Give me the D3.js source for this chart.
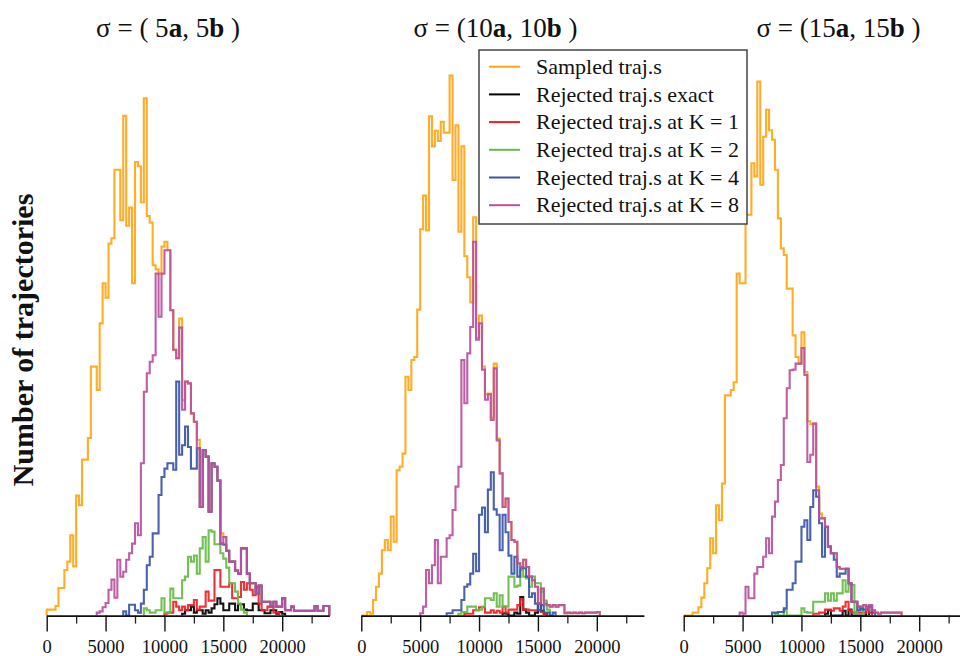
<!DOCTYPE html>
<html>
<head>
<meta charset="utf-8">
<script src="https://cdn.jsdelivr.net/npm/d3@7"></script>
<style>
  body { margin: 0; background: #fff; }
  svg { display: block; }
</style>
</head>
<body>
<svg id="chart" width="960" height="656"></svg>
<script>
// ---- data -------------------------------------------------------------
const binWidth = 250;            // histogram bin width (trajectory length)
const xMax = 24000;
const majorTicks = [0, 5000, 10000, 15000, 20000];
const minorTicks = [2500, 7500, 12500, 17500, 22500];

const seriesNames = [
  "Sampled traj.s",
  "Rejected traj.s exact",
  "Rejected traj.s at K = 1",
  "Rejected traj.s at K = 2",
  "Rejected traj.s at K = 4",
  "Rejected traj.s at K = 8"
];
const seriesColors = ["#FFA515", "#000000", "#EE1F26", "#66BB44", "#3A55A6", "#B9509F"];

const sigmaFactors = ["5", "10", "15"];

// first bin index of each series, in legend order
const p1From = [0, 46, 40, 33, 26, 17];
const p2From = [0, 48, 35, 33, 29, 20];
const p3From = [0, 48, 44, 31, 30, 19];

// sigma = (5a, 5b)
const p1Sampled = [1, 1, 1, 1.6, 4.6, 4.6, 7.6, 9, 13.4, 8.2, 20, 18.4, 26, 26, 29.6, 41.5, 41.5, 37.6, 48.7, 55.4,
  53, 62, 62.9, 74.3, 74.3, 65.9, 83.3, 65, 68, 55.4, 75.6, 74.9, 68.9, 86.2, 66.6, 65.5, 58.4, 57.7, 57, 61.5,
  62.3, 60.9, 50.9, 44.3, 42.9, 49.5, 35.9, 39, 38.7, 33.7, 32.3, 29.3, 18.1, 27.6, 26.5, 17.3, 25.4, 24.8, 22.5, 13.7,
  13.1, 10.8, 9, 9, 7.5, 7, 11.2, 11.2, 7, 5.4, 5.4, 3.7, 5, 2.3, 2.3, 2.3, 1.5, 2.3, 1.5, 1.5,
  2.9, 0.9, 0.9, 1.5, 0.8, 0.8, 0.8, 0.8, 0.8, 0.8, 0.8, 1.6, 0.8, 0.8, 1.6, 1.6];
const p1Exact = [0.3, 0.9, 0.9, 1.5, 0.5, 0.9, 0.9, 0.3, 0.9, 0.5, 1.2, 1.9, 2.9, 2, 0.9, 0.9, 2, 2, 0.9, 1.9,
  1.9, 1, 0.9, 0.9, 2, 2, 0.9, 0.9, 0.4, 0.4, 0.9, 0.9, 0.3, 0.6, 0.3];
const p1K1 = [0.3, 0.5, 0.5, 2.3, 1.5, 0.9, 1.5, 0.9, 1.75, 1.75, 2.6, 1, 1.5, 1.5, 4, 2.5, 2.5, 7.6, 7.6, 4.8,
  4.8, 4.8, 5.4, 2.9, 2.9, 3.1, 5.6, 4.3, 5.4, 4.3, 3.4, 4.8, 2, 0.9, 0.9, 1.5, 1.5, 0.5, 0.5];
const p1K2 = [1.2, 0.9, 0.5, 0.5, 0.9, 0.9, 2.9, 0.5, 0.5, 4.5, 2.9, 2.9, 2.9, 5.9, 6.5, 9.8, 9, 10, 7, 11.2,
  13.1, 9, 14.2, 14, 11.9, 11.9, 10.4, 9.5, 8, 5.4, 5.4, 4, 2, 1, 0.5];
const p1K4 = [0.7, 0, 1.8, 1.8, 0.9, 0.5, 2, 4.3, 8.4, 9.8, 13.7, 13.7, 20.1, 23.1, 24.5, 25.4, 25.4, 24.3, 39, 26.8,
  28.4, 31.5, 28.1, 24.5, 24.5, 27.9, 18.1, 27.6, 26.5, 17.3, 25.4, 24.8, 22.5, 12, 11.8,
  10.8, 9, 9, 7.5, 7, 11.2, 11.2, 7, 5.4, 5.4, 3.7, 5, 2.3, 2.3, 2.3, 1.5, 2.3, 1.5, 1.5,
  2.9, 0.9, 0.9, 1.5, 0.8, 0.8, 0.8, 0.8, 0.8, 0.8, 0.8, 1.6, 0.8, 0.8, 1.6, 1.6];
const p1K8 = [0.5, 0.7, 1.4, 2.1, 4.3, 6, 3, 9.3, 6.5, 7.3, 9.3, 10.4, 12, 15.4, 13.4, 25.4, 37.3, 40.4, 42.3, 43.4,
  57, 49.8, 57, 60.9, 60.9, 50.9, 44.3, 42.9, 48, 34.3, 39, 38.7, 33.7, 32.3, 27.9, 18.1, 27.6, 26.5, 17.3, 25.4,
  24.8, 22.5, 12, 13.1, 10.8, 9, 9, 7.5, 7, 11.2, 11.2, 7, 5.4, 5.4, 3.7, 5, 2.3, 2.3, 2.3, 1.5,
  2.3, 1.5, 1.5, 2.9, 0.9, 0.9, 1.5, 0.8, 0.8, 0.8, 0.8, 0.8, 0.8, 0.8, 1.6, 0.8, 0.8, 1.6, 1.6];

// sigma = (10a, 10b)
const p2Sampled = [0, 0, 0.6, 0.3, 2.6, 4.8, 7, 10.9, 12.6, 10.9, 16.5, 12.3, 24.2, 24.8, 27, 39.8, 37.6, 42.6, 43.1, 51,
  64.4, 70, 64.2, 83.2, 78.2, 80.8, 79.1, 82.3, 80.5, 80.5, 90, 72.6, 81.7, 64, 78.2, 59.9, 56.4, 52.2, 66.4, 46.3,
  50, 41.5, 36.9, 37, 33, 42, 29.5, 23.7, 18.1, 19.5, 15.6, 12.6, 12.3, 8.7, 8.1, 9.3, 8.1, 6.5, 5.9, 4.8,
  2, 4.5, 2, 1.75, 1.5, 1.75, 1.5, 1.75, 1.75, 0.4, 0.5, 0.4, 0.5, 0.4, 0.5, 0.4, 0.5, 0.5, 0.5, 0.5, 0.6];
const p2Exact = [0.4, 0.3, 0, 0, 0.5, 0.3, 3.1, 1, 0.5, 0, 0, 0.5, 2, 0.8, 0.3];
const p2K1 = [0.3, 0.3, 0.3, 0.9, 0.9, 1.4, 1.4, 0.5, 0.5, 0.9, 0.5, 0.8, 0.5, 1.5, 0.5, 1, 1, 1, 1.75, 2.7,
  1, 1, 0.9, 0.9, 0.9, 0.9, 0.6, 0.3];
const p2K2 = [0.3, 0.6, 0.6, 1.5, 1.5, 1.5, 0.9, 1, 1.5, 2.9, 2.9, 2.6, 3.7, 1.5, 3.4, 1.5, 1.5, 6.5, 6.5, 4.8,
  5, 7.6, 6.5, 6.2, 4.8, 6.5, 5.4, 5.4, 4, 2.5, 1];
const p2K4 = [0.4, 0.4, 0.9, 0.9, 0.9, 2.6, 4.8, 5.2, 7, 10.3, 7.4, 16.8, 18, 13.9, 21, 23.9, 17.7, 16.8, 10.9, 16.8,
  13.9, 10, 7, 9.8, 6.5, 8, 7.9, 6.5, 3.1, 3.7, 2, 0.9, 1.75, 0.5, 0.5, 0, 0.5];
const p2K8 = [0.4, 1.5, 7.6, 5.4, 8.4, 12.6, 5.4, 9.8, 9.8, 12.9, 13.4, 17.6, 21.5, 24.8, 42.6, 35.4, 43.7, 48.1, 62.3, 46,
  48.7, 41, 36, 36.9, 32.6, 41.2, 29.2, 23.7, 18.1, 19.5, 15.6, 12.6, 12.3, 8.7, 8.1, 9.3, 8.1, 6.5, 5.9, 4.8,
  2, 4.5, 2, 1.75, 1.5, 1.75, 1.5, 1.75, 1.75, 0.4, 0.5, 0.4, 0.5, 0.4, 0.5, 0.4, 0.5, 0.5, 0.5, 0.5, 0.6];

// sigma = (15a, 15b)
const p3Sampled = [0, 0, 0, 0.5, 0.5, 1.4, 3, 5.4, 7.9, 12.9, 10.4, 18.4, 15.9, 22, 36.7, 36.7, 37.6, 38.9, 57, 55.4,
  55.4, 66.8, 66.8, 75.4, 73.2, 89, 71.8, 79.8, 84.3, 80.9, 79.3, 74.3, 66.2, 61.2, 60.1, 54.5, 54.5, 46.7, 43.1, 42,
  47.2, 40.6, 32.4, 31.9, 32, 21.5, 17, 16.2, 14.8, 11.5, 10.4, 10.4, 8.1, 7.8, 7.8, 7.8, 5.4, 2.3, 2.3, 1.5,
  1.5, 1.75, 0.9, 1.75, 0.9, 0.5, 0.3, 0.5, 0.5, 0.5, 0.5, 0.5, 0.5, 0.5];
const p3Exact = [0.3, 0.9, 0, 0, 0, 0, 0.8, 0, 1, 0, 0, 0, 0, 0, 1];
const p3K1 = [0.3, 0.3, 0.5, 0.5, 1, 1, 0.8, 1.2, 1.2, 0.8, 1.5, 2.3, 0.9, 0.5, 0.5, 0.5, 0.5, 0.5, 1.5, 0.5];
const p3K2 = [0.3, 0, 0, 0.9, 0, 0, 0, 0, 0, 1.2, 0.6, 0.5, 0.5, 2.3, 2.3, 2.3, 2.3, 3.7, 2.5, 3.7,
  2.5, 3.7, 3.7, 5.9, 4, 5.1, 5.1, 0.6, 1.5, 1];
const p3K4 = [0.5, 0.5, 0.6, 0.6, 1.2, 4.3, 4.3, 5.4, 9, 9, 14.8, 15.9, 12.6, 18.1, 20.9, 19.8, 15.4, 9.8, 14.8, 11.5,
  10.4, 9.3, 6.5, 7, 7, 7.8, 5.4, 2.3, 2.3, 0.9, 1.2, 1, 0.9, 1.5, 0.5];
const p3K8 = [0.5, 0.3, 4.8, 2.9, 2.9, 7, 8.1, 8.1, 9.8, 12.9, 10.4, 16.5, 19, 22.6, 25.1, 32.9, 37.9, 40.9, 41, 42,
  42, 44.6, 40.1, 25.6, 26.8, 32, 20.9, 16.2, 16.2, 14.8, 11.5, 10.4, 10.4, 8.1, 7.8, 7.8, 7.8, 5.4, 2.3, 2.3,
  1.5, 1.5, 1.75, 0.9, 1.75, 0.9, 0.5, 0.3, 0.5, 0.5, 0.5, 0.5, 0.5, 0.5, 0.5];

const panelSeries = [
  [p1Sampled, p1Exact, p1K1, p1K2, p1K4, p1K8],
  [p2Sampled, p2Exact, p2K1, p2K2, p2K4, p2K8],
  [p3Sampled, p3Exact, p3K1, p3K2, p3K4, p3K8]
];
const panelFrom = [p1From, p2From, p3From];

// ---- layout -----------------------------------------------------------
const serif = "'Liberation Serif', 'Times New Roman', Times, serif";
const svg = d3.select("#chart");
const panelLeft = [46.7, 361.3, 683.7];
const panelWidth = 282.6;
const titleCenter = [168, 495.5, 838.5];
const baseY = 615.6;

const y = d3.scaleLinear().domain([0, 100]).range([baseY, baseY - 600]);

function stepPoints(counts, first) {
  const pts = [[first * binWidth, 0]];
  counts.forEach((c, k) => {
    const x0 = (first + k) * binWidth;
    pts.push([x0, c], [x0 + binWidth, c]);
  });
  pts.push([(first + counts.length) * binWidth, 0]);
  return pts;
}

panelSeries.forEach((seriesList, p) => {
  const x = d3.scaleLinear().domain([0, xMax]).range([panelLeft[p], panelLeft[p] + panelWidth]);
  const g = svg.append("g");
  const line = d3.line().x(d => x(d[0])).y(d => y(d[1]));

  seriesList.forEach((counts, s) => {
    g.append("path")
      .attr("d", line(stepPoints(counts, panelFrom[p][s])))
      .attr("fill", "none")
      .attr("stroke", seriesColors[s])
      .attr("stroke-width", 2.1)
      .attr("stroke-opacity", 0.92)
      .attr("stroke-linejoin", "miter");
  });

  // minor ticks
  g.append("g")
    .attr("transform", `translate(0,${baseY})`)
    .call(d3.axisBottom(x).tickValues(minorTicks).tickSize(8).tickSizeOuter(0).tickFormat(""))
    .call(a => a.select(".domain").remove())
    .call(a => a.selectAll("line").attr("stroke", "#222").attr("stroke-width", 1.3));

  // major ticks + labels + axis line
  g.append("g")
    .attr("transform", `translate(0,${baseY})`)
    .call(d3.axisBottom(x).tickValues(majorTicks).tickSize(16).tickSizeOuter(0).tickPadding(8).tickFormat(d3.format("d")))
    .call(a => a.select(".domain").attr("stroke", "#111").attr("stroke-width", 1.6))
    .call(a => a.selectAll("line").attr("stroke", "#111").attr("stroke-width", 1.4))
    .call(a => a.selectAll("text").attr("font-family", serif).attr("font-size", 18.5).attr("fill", "#111"));

  // panel title
  const t = svg.append("text")
    .attr("x", titleCenter[p]).attr("y", 37)
    .attr("text-anchor", "middle")
    .attr("font-family", serif).attr("font-size", 27).attr("fill", "#111");
  const pre = p === 0 ? "\u03C3 = ( 5" : `\u03C3 = (${sigmaFactors[p]}`;
  t.append("tspan").text(pre);
  t.append("tspan").attr("font-weight", "bold").text("a");
  t.append("tspan").text(`, ${sigmaFactors[p]}`);
  t.append("tspan").attr("font-weight", "bold").text("b");
  t.append("tspan").text(" )");
});

// y-axis title
svg.append("text")
  .attr("transform", "translate(33,340) rotate(-90)")
  .attr("text-anchor", "middle")
  .attr("font-family", serif).attr("font-size", 30).attr("font-weight", "bold").attr("fill", "#111")
  .text("Number of trajectories");

// legend
const legend = svg.append("g");
legend.append("rect")
  .attr("x", 479).attr("y", 50).attr("width", 268).attr("height", 174)
  .attr("fill", "#fff").attr("stroke", "#444").attr("stroke-width", 1.5);
seriesNames.forEach((name, i) => {
  const yy = 66.7 + i * 27.7;
  legend.append("line")
    .attr("x1", 489).attr("x2", 520).attr("y1", yy).attr("y2", yy)
    .attr("stroke", seriesColors[i]).attr("stroke-width", 2);
  legend.append("text")
    .attr("x", 536).attr("y", yy).attr("dy", "0.33em")
    .attr("font-family", serif).attr("font-size", 22).attr("fill", "#111")
    .text(name);
});
</script>
</body>
</html>
